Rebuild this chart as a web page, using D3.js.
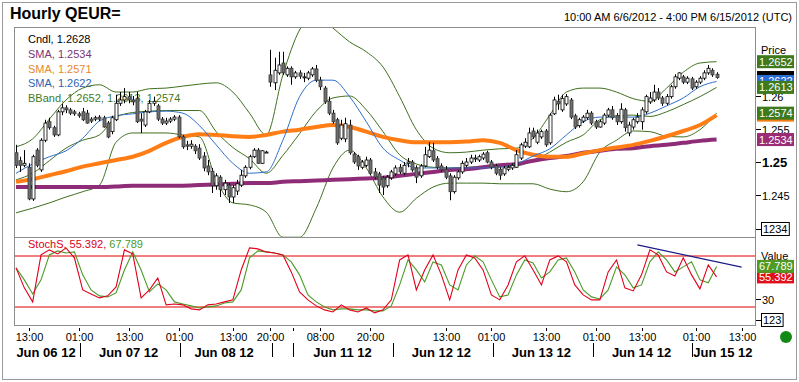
<!DOCTYPE html>
<html><head><meta charset="utf-8">
<script src="https://cdn.jsdelivr.net/npm/d3@7/dist/d3.min.js"></script>
<style>
body{margin:0;background:#fff;}
svg{display:block;font-family:"Liberation Sans",Arial,sans-serif;}
</style></head><body>
<svg id="c" width="799" height="382"></svg>
<script>
// ---------------- DATA ----------------
const opens=[1.2514,1.2502,1.2495,1.2492,1.2444,1.2518,1.2488,1.2533,1.2561,1.2552,
1.2541,1.2576,1.2582,1.2579,1.2576,1.2573,1.2576,1.2574,1.2565,1.2565,
1.2568,1.2567,1.2559,1.2546,1.2564,1.2589,1.2594,1.2599,1.2594,1.2596,
1.2565,1.2556,1.2576,1.2589,1.2585,1.2565,1.2559,1.2562,1.2565,1.2568,
1.2538,1.2526,1.2524,1.2524,1.2521,1.2509,1.2494,1.2486,1.2464,1.2477,
1.2458,1.2465,1.2447,1.2456,1.2465,1.2479,1.2492,1.2508,1.2518,1.2498,
1.2515,1.2632,1.2620,1.2635,1.2650,1.2632,1.2642,1.2629,1.2635,1.2629,
1.2627,1.2632,1.2641,1.2624,1.2612,1.2592,1.2574,1.2564,1.2536,1.2535,
1.2556,1.2512,1.2508,1.2492,1.2495,1.2503,1.2485,1.2482,1.2476,1.2464,
1.2476,1.2482,1.2492,1.2483,1.2498,1.2500,1.2491,1.2479,1.2494,1.2508,
1.2517,1.2505,1.2494,1.2489,1.2479,1.2455,1.2476,1.2485,1.2495,1.2500,
1.2505,1.2503,1.2506,1.2514,1.2500,1.2494,1.2489,1.2482,1.2489,1.2491,
1.2492,1.2506,1.2524,1.2523,1.2547,1.2530,1.2538,1.2547,1.2529,1.2573,
1.2592,1.2579,1.2588,1.2594,1.2570,1.2555,1.2562,1.2567,1.2574,1.2561,
1.2553,1.2559,1.2571,1.2579,1.2570,1.2561,1.2579,1.2544,1.2553,1.2561,
1.2561,1.2576,1.2591,1.2594,1.2606,1.2597,1.2589,1.2599,1.2614,1.2627,
1.2629,1.2621,1.2626,1.2614,1.2621,1.2627,1.2635,1.2639,1.2633];
const highs=[1.2526,1.2508,1.2518,1.2498,1.2511,1.2521,1.2536,1.2564,1.2567,1.2555,
1.2579,1.2588,1.2586,1.2582,1.2579,1.2576,1.2582,1.2579,1.2568,1.2570,
1.2571,1.2570,1.2562,1.2570,1.2602,1.2606,1.2612,1.2606,1.2600,1.2606,
1.2574,1.2579,1.2594,1.2599,1.2588,1.2568,1.2567,1.2568,1.2571,1.2571,
1.2541,1.2532,1.2533,1.2527,1.2527,1.2515,1.2503,1.2491,1.2483,1.2480,
1.2473,1.2468,1.2465,1.2473,1.2488,1.2495,1.2511,1.2521,1.2521,1.2518,
1.2517,1.2670,1.2658,1.2667,1.2667,1.2645,1.2645,1.2638,1.2639,1.2635,
1.2638,1.2644,1.2647,1.2629,1.2615,1.2599,1.2579,1.2567,1.2564,1.2567,
1.2564,1.2515,1.2511,1.2503,1.2508,1.2506,1.2491,1.2485,1.2479,1.2480,
1.2488,1.2495,1.2497,1.2500,1.2506,1.2503,1.2495,1.2497,1.2523,1.2530,
1.2529,1.2509,1.2498,1.2494,1.2483,1.2480,1.2488,1.2502,1.2506,1.2511,
1.2511,1.2511,1.2515,1.2517,1.2503,1.2497,1.2492,1.2494,1.2495,1.2498,
1.2518,1.2529,1.2536,1.2552,1.2552,1.2549,1.2549,1.2550,1.2574,1.2599,
1.2602,1.2602,1.2603,1.2597,1.2573,1.2567,1.2571,1.2579,1.2577,1.2564,
1.2564,1.2574,1.2582,1.2585,1.2574,1.2589,1.2582,1.2561,1.2567,1.2574,
1.2583,1.2602,1.2606,1.2617,1.2612,1.2600,1.2603,1.2617,1.2633,1.2636,
1.2632,1.2630,1.2629,1.2624,1.2630,1.2639,1.2647,1.2642,1.2636];
const lows=[1.2491,1.2485,1.2492,1.2442,1.2441,1.2492,1.2485,1.2530,1.2549,1.2538,
1.2539,1.2571,1.2574,1.2571,1.2570,1.2567,1.2562,1.2558,1.2559,1.2562,
1.2562,1.2552,1.2536,1.2542,1.2562,1.2585,1.2589,1.2589,1.2586,1.2559,
1.2544,1.2553,1.2574,1.2585,1.2562,1.2556,1.2556,1.2559,1.2562,1.2536,
1.2520,1.2518,1.2520,1.2512,1.2503,1.2486,1.2480,1.2453,1.2458,1.2447,
1.2450,1.2438,1.2438,1.2450,1.2462,1.2476,1.2489,1.2506,1.2497,1.2497,
1.2514,1.2614,1.2609,1.2632,1.2632,1.2629,1.2617,1.2626,1.2626,1.2621,
1.2624,1.2629,1.2621,1.2609,1.2588,1.2571,1.2558,1.2526,1.2533,1.2530,
1.2511,1.2497,1.2488,1.2489,1.2492,1.2480,1.2474,1.2453,1.2450,1.2461,
1.2473,1.2479,1.2482,1.2480,1.2492,1.2485,1.2468,1.2476,1.2492,1.2506,
1.2500,1.2489,1.2485,1.2474,1.2442,1.2452,1.2473,1.2482,1.2492,1.2497,
1.2500,1.2500,1.2503,1.2498,1.2489,1.2480,1.2473,1.2479,1.2486,1.2488,
1.2491,1.2503,1.2521,1.2521,1.2535,1.2527,1.2535,1.2523,1.2526,1.2571,
1.2579,1.2576,1.2585,1.2565,1.2550,1.2552,1.2559,1.2564,1.2556,1.2550,
1.2552,1.2556,1.2568,1.2564,1.2556,1.2558,1.2546,1.2539,1.2549,1.2558,
1.2549,1.2573,1.2588,1.2591,1.2594,1.2585,1.2586,1.2596,1.2611,1.2624,
1.2618,1.2618,1.2609,1.2611,1.2618,1.2624,1.2632,1.2629,1.2626];
const closes=[1.2495,1.2495,1.2498,1.2444,1.2508,1.2495,1.2533,1.2559,1.2552,1.2541,
1.2576,1.2582,1.2579,1.2574,1.2573,1.2570,1.2564,1.2559,1.2562,1.2567,
1.2565,1.2553,1.2538,1.2567,1.2589,1.2594,1.2599,1.2594,1.2591,1.2561,
1.2562,1.2576,1.2589,1.2592,1.2565,1.2559,1.2562,1.2565,1.2568,1.2538,
1.2523,1.2524,1.2527,1.2517,1.2506,1.2491,1.2485,1.2464,1.2479,1.2458,
1.2468,1.2447,1.2461,1.2467,1.2480,1.2492,1.2508,1.2518,1.2498,1.2517,
1.2515,1.2621,1.2639,1.2647,1.2635,1.2642,1.2629,1.2635,1.2630,1.2629,
1.2635,1.2641,1.2624,1.2614,1.2591,1.2574,1.2561,1.2529,1.2556,1.2558,
1.2514,1.2500,1.2494,1.2500,1.2503,1.2483,1.2477,1.2465,1.2462,1.2477,
1.2485,1.2491,1.2485,1.2495,1.2500,1.2488,1.2477,1.2494,1.2511,1.2518,
1.2503,1.2492,1.2488,1.2477,1.2455,1.2477,1.2485,1.2498,1.2500,1.2506,
1.2506,1.2508,1.2512,1.2500,1.2492,1.2483,1.2480,1.2491,1.2492,1.2495,
1.2511,1.2526,1.2530,1.2544,1.2538,1.2544,1.2546,1.2526,1.2571,1.2594,
1.2588,1.2596,1.2599,1.2568,1.2553,1.2564,1.2568,1.2574,1.2559,1.2553,
1.2561,1.2571,1.2579,1.2567,1.2561,1.2580,1.2552,1.2556,1.2564,1.2568,
1.2579,1.2599,1.2597,1.2606,1.2597,1.2589,1.2599,1.2614,1.2629,1.2635,
1.2621,1.2627,1.2612,1.2621,1.2627,1.2635,1.2642,1.2632,1.2628];

// indicator lines, sampled every 4th candle (index 0,4,...,168)
const lineStep=4;
const smaPurple=[1.2462,1.2462,1.2462,1.2462,1.2462,1.2462,1.2463,1.2464,1.2464,1.2464,1.2464,1.2465,1.2466,1.2467,1.2468,1.2468,1.2470,1.2471,1.2472,1.2473,1.2474,1.2475,1.2476,1.2479,1.2482,1.2485,1.2488,1.2489,1.2492,1.2495,1.2497,1.2502,1.2506,1.2509,1.2514,1.2517,1.2520,1.2521,1.2524,1.2526,1.2529,1.2532,1.2534];
const smaOrange=[1.2470,1.2474,1.2480,1.2486,1.2493,1.2498,1.2503,1.2508,1.2517,1.2529,1.2538,1.2542,1.2541,1.2539,1.2538,1.2541,1.2546,1.2549,1.2553,1.2556,1.2553,1.2546,1.2538,1.2533,1.2530,1.2530,1.2530,1.2531,1.2533,1.2529,1.2518,1.2511,1.2508,1.2508,1.2513,1.2518,1.2522,1.2526,1.2532,1.2539,1.2547,1.2556,1.2571];
const smaBlue=[1.2483,1.2497,1.2508,1.2517,1.2536,1.2562,1.2570,1.2573,1.2576,1.2577,1.2574,1.2555,1.2526,1.2498,1.2483,1.2485,1.2533,1.2599,1.2624,1.2624,1.2599,1.2561,1.2521,1.2503,1.2491,1.2491,1.2491,1.2491,1.2491,1.2492,1.2497,1.2509,1.2520,1.2541,1.2561,1.2568,1.2568,1.2568,1.2574,1.2585,1.2597,1.2614,1.2622];
const bbUpper=[1.2523,1.2535,1.2565,1.2594,1.2612,1.2617,1.2606,1.2606,1.2611,1.2612,1.2615,1.2618,1.2620,1.2606,1.2574,1.2541,1.2632,1.2700,1.2723,1.2703,1.2682,1.2667,1.2644,1.2599,1.2549,1.2521,1.2514,1.2515,1.2518,1.2520,1.2521,1.2536,1.2571,1.2606,1.2612,1.2612,1.2606,1.2596,1.2592,1.2612,1.2636,1.2650,1.2652];
const bbMiddle=[1.2473,1.2483,1.2502,1.2521,1.2533,1.2541,1.2568,1.2575,1.2577,1.2578,1.2578,1.2578,1.2546,1.2522,1.2505,1.2483,1.2510,1.2543,1.2577,1.2597,1.2600,1.2579,1.2546,1.2511,1.2497,1.2492,1.2491,1.2492,1.2493,1.2493,1.2494,1.2502,1.2515,1.2530,1.2541,1.2564,1.2570,1.2571,1.2569,1.2576,1.2587,1.2599,1.2613];
const bbLower=[1.2423,1.2430,1.2438,1.2447,1.2455,1.2465,1.2530,1.2544,1.2544,1.2544,1.2541,1.2538,1.2473,1.2438,1.2435,1.2424,1.2386,1.2386,1.2430,1.2491,1.2518,1.2491,1.2447,1.2424,1.2445,1.2462,1.2468,1.2468,1.2468,1.2467,1.2467,1.2467,1.2459,1.2455,1.2470,1.2515,1.2533,1.2547,1.2546,1.2539,1.2538,1.2549,1.2574];

// stochastic, sampled every 2nd candle
const stochStep=2;
const stochK=[66.0,42.5,26.0,81.3,87.2,82.5,89.5,77.8,40.1,35.4,
30.7,33.1,43.6,87.2,82.5,30.7,40.1,54.2,22.5,23.6,
22.5,17.8,16.6,22.5,23.6,26.0,28.4,63.6,89.5,88.4,
84.8,83.6,81.3,61.3,37.8,28.4,21.3,16.6,14.2,22.5,
16.6,14.2,18.9,13.1,16.6,28.4,75.4,81.3,40.1,63.6,
81.3,57.8,28.4,63.6,81.3,77.8,63.6,34.2,28.4,46.0,
73.1,80.1,63.6,46.0,75.4,80.1,73.1,46.0,34.2,28.4,
28.4,61.3,75.4,42.5,38.9,57.8,87.2,81.3,61.3,56.6,
77.8,57.8,41.3,69.5,55.392];
const stochD=[66.0,51.9,35.4,51.9,81.3,86.0,83.6,84.8,57.8,40.1,
33.1,31.9,36.6,63.6,84.8,63.6,37.8,47.2,40.1,26.0,
23.6,21.3,18.9,20.1,21.3,24.8,26.0,40.1,77.8,86.0,
84.8,83.6,81.3,73.1,57.8,34.2,26.0,20.1,16.6,17.8,
17.8,16.6,16.6,15.4,15.4,21.3,46.0,75.4,63.6,49.5,
73.1,69.5,46.0,40.1,69.5,80.1,73.1,51.9,31.9,34.2,
57.8,75.4,71.9,54.2,61.3,75.4,77.8,61.3,40.1,31.9,
29.5,40.1,67.2,57.8,42.5,46.0,73.1,84.8,75.4,61.3,
67.2,73.1,51.9,48.4,67.789];
const stochLevels=[80,20];
const trendIdx=[149,174], trendVal=[93,67];

// axes
const priceTicks=[1.245,1.25,1.255,1.26];
const stochTicks=[30];
const hourTickIdx=[3,15,27,39,52,61,73,85,103,114,127,139,150,163,174];
const hourTickLabels=["13:00","01:00","13:00","01:00","13:00","20:00","08:00","20:00","13:00","01:00","13:00","01:00","13:00","01:00","13:00"];
const minorTickIdx=[66.4];
const dayLabelIdx=[7.2,27,49.9,78.3,102,126,150,169.5];
const dayLabels=["Jun 06 12","Jun 07 12","Jun 08 12","Jun 11 12","Jun 12 12","Jun 13 12","Jun 14 12","Jun 15 12"];
const daySepIdx=[15.3,39.3,61.4,66.4,90.4,114.4,138.4,162.2];

const legend=[
 {t:"Cndl, 1.2628",c:"#000000"},
 {t:"SMA, 1.2534",c:"#7d3577"},
 {t:"SMA, 1.2571",c:"#e88a2e"},
 {t:"SMA, 1.2622",c:"#2f62b3"},
 {t:"BBand, 1.2652, 1.2613, 1.2574",c:"#3f7a1e"}];
// last-value markers on the price scale (t=null: marker hidden under neighbours)
const priceBoxes=[
 {v:1.2628,t:null,c:"#000000"},
 {v:1.2622,t:"1.2622",c:"#2a6cd6"},
 {v:1.2652,t:"1.2652",c:"#3e7a1c"},
 {v:1.2613,t:"1.2613",c:"#3e7a1c"},
 {v:1.2571,t:null,c:"#f07c12"},
 {v:1.2574,t:"1.2574",c:"#3e7a1c"},
 {v:1.2534,t:"1.2534",c:"#9b2b72"}];
const stochBoxes=[
 {v:55.392,t:"55.392",c:"#e0101a"},
 {v:67.789,t:"67.789",c:"#4f9a22"}];

// ---------------- LAYOUT ----------------
const L=14,R=756,T=27,MID=237,B=326;
const svg=d3.select("#c");
const x=d3.scaleLinear().domain([0,168]).range([16,716.6]);
const y=d3.scaleLinear().domain([1.245,1.26]).range([195,96]);
const ys=d3.scaleLinear().domain([20,80]).range([307,256]);

// window frame
svg.append("rect").attr("x",2.5).attr("y",2.5).attr("width",794).attr("height",377)
 .attr("fill","#fff").attr("stroke","#9a9a9a");
svg.append("text").attr("x",10).attr("y",18.5).attr("font-size",16).attr("font-weight","bold").text("Hourly QEUR=");
svg.append("text").attr("x",792).attr("y",20.5).attr("font-size",11).attr("text-anchor","end")
 .text("10:00 AM 6/6/2012 - 4:00 PM 6/15/2012 (UTC)");

const defs=svg.append("defs");
defs.append("clipPath").attr("id","cm").append("rect").attr("x",L).attr("y",T).attr("width",R-L).attr("height",MID-T);
defs.append("clipPath").attr("id","cs").append("rect").attr("x",L).attr("y",MID).attr("width",R-L).attr("height",B-MID);

// legend
legend.forEach((d,k)=>{
 svg.append("text").attr("x",28).attr("y",43+k*14.8).attr("font-size",11).attr("fill",d.c).text(d.t);
});

const gm=svg.append("g").attr("clip-path","url(#cm)");
const mk=(arr,step)=>arr.map((v,k)=>({i:k*step,v}));
const lineP=d3.line().x(d=>x(d.i)).y(d=>y(d.v)).curve(d3.curveMonotoneX);
[bbUpper,bbMiddle,bbLower].forEach(a=>{
 gm.append("path").attr("d",lineP(mk(a,lineStep))).attr("fill","none").attr("stroke","#3f6f1f").attr("stroke-width",1);
});
gm.append("path").attr("d",lineP(mk(smaPurple,lineStep))).attr("fill","none").attr("stroke","#8e2c78").attr("stroke-width",4);
gm.append("path").attr("d",lineP(mk(smaOrange,lineStep))).attr("fill","none").attr("stroke","#ff7d14").attr("stroke-width",4);
gm.append("path").attr("d",lineP(mk(smaBlue,lineStep))).attr("fill","none").attr("stroke","#2f6fc8").attr("stroke-width",1);

// candles
const candles=opens.map((o,i)=>({i,o,h:highs[i],l:lows[i],c:closes[i]}));
const cg=gm.append("g");
cg.selectAll("line.w").data(candles).enter().append("line")
 .attr("x1",d=>Math.round(x(d.i))+0.5).attr("x2",d=>Math.round(x(d.i))+0.5)
 .attr("y1",d=>y(d.h)).attr("y2",d=>y(d.l)).attr("stroke","#000").attr("stroke-width",1);
cg.selectAll("rect.b").data(candles).enter().append("rect")
 .attr("x",d=>Math.round(x(d.i))-1)
 .attr("width",3)
 .attr("y",d=>y(Math.max(d.o,d.c)))
 .attr("height",d=>Math.max(1,Math.abs(y(d.o)-y(d.c))))
 .attr("fill",d=>d.c>=d.o?"#ffffff":"#6e6e6e")
 .attr("stroke",d=>d.c>=d.o?"#000":"#3a3a3a").attr("stroke-width",0.8);

// stoch
const gs=svg.append("g").attr("clip-path","url(#cs)");
stochLevels.forEach(v=>{
 gs.append("line").attr("x1",L).attr("x2",R).attr("y1",ys(v)).attr("y2",ys(v)).attr("stroke","#e00000").attr("stroke-width",1);
});
const lineS=d3.line().x(d=>x(d.i)).y(d=>ys(d.v));
gs.append("path").attr("d",lineS(mk(stochD,stochStep))).attr("fill","none").attr("stroke","#4c9a26").attr("stroke-width",1.1);
gs.append("path").attr("d",lineS(mk(stochK,stochStep))).attr("fill","none").attr("stroke","#e0001c").attr("stroke-width",1.1);
gs.append("line").attr("x1",x(trendIdx[0])).attr("y1",ys(trendVal[0])).attr("x2",x(trendIdx[1])).attr("y2",ys(trendVal[1]))
 .attr("stroke","#1a1a86").attr("stroke-width",1.2);
const st=svg.append("text").attr("x",28).attr("y",248).attr("font-size",11);
st.append("tspan").attr("fill","#d8001c").text("StochS, 55.392, ");
st.append("tspan").attr("fill","#4c9a26").text("67.789");

// panel frames
svg.append("rect").attr("x",L+0.5).attr("y",T+0.5).attr("width",R-L-1).attr("height",B-T-1).attr("fill","none").attr("stroke","#8c8c8c");
svg.append("line").attr("x1",L).attr("x2",R).attr("y1",MID+0.5).attr("y2",MID+0.5).attr("stroke","#8c8c8c");

// price axis
svg.append("text").attr("x",761).attr("y",54).attr("font-size",11).text("Price");
priceTicks.forEach(v=>{
 const yy=Math.round(y(v))+0.5;
 svg.append("line").attr("x1",R).attr("x2",R+5).attr("y1",yy).attr("y2",yy).attr("stroke","#000");
 svg.append("text").attr("x",R+6).attr("y",yy+4).attr("font-size",v===1.25?13:11)
  .attr("font-weight",v===1.25?"bold":"normal").text(v===1.25?"1.25":d3.format(".3~f")(v));
});
// truncated boxed labels at panel bottoms
[[MID-8,"1234"],[B-6,"123"]].forEach(([yy,t])=>{
 svg.append("line").attr("x1",R).attr("x2",R+5).attr("y1",yy+0.5).attr("y2",yy+0.5).attr("stroke","#000");
 const w=t.length*6.2+3;
 svg.append("rect").attr("x",R+5.5).attr("y",yy-6.5).attr("width",w).attr("height",13).attr("fill","#fff").attr("stroke","#000");
 svg.append("text").attr("x",R+7).attr("y",yy+4).attr("font-size",11).text(t);
});
priceBoxes.forEach(d=>{
 const yy=y(d.v);
 svg.append("rect").attr("x",R+1).attr("y",yy-6.5).attr("width",37).attr("height",13).attr("fill",d.c);
 if(d.t) svg.append("text").attr("x",R+3).attr("y",yy+4).attr("font-size",11).attr("fill","#fff").text(d.t);
});
// stoch axis
svg.append("text").attr("x",761).attr("y",260).attr("font-size",11).text("Value");
stochTicks.forEach(v=>{
 const yy=Math.round(ys(v))+0.5;
 svg.append("line").attr("x1",R).attr("x2",R+5).attr("y1",yy).attr("y2",yy).attr("stroke","#000");
 svg.append("text").attr("x",R+6).attr("y",yy+4).attr("font-size",11).text(v);
});
stochBoxes.forEach(d=>{
 const yy=ys(d.v);
 svg.append("rect").attr("x",R+1).attr("y",yy-6.5).attr("width",37).attr("height",13).attr("fill",d.c);
 svg.append("text").attr("x",R+3).attr("y",yy+4).attr("font-size",11).attr("fill","#fff").text(d.t);
});

// time axis
hourTickIdx.forEach((t,k)=>{
 const xx=Math.round(x(t))+0.5;
 svg.append("line").attr("x1",xx).attr("x2",xx).attr("y1",B+2).attr("y2",B+5).attr("stroke","#000");
 svg.append("text").attr("x",xx).attr("y",B+15).attr("font-size",11).attr("text-anchor","middle").text(hourTickLabels[k]);
});
minorTickIdx.forEach(t=>{
 const xx=Math.round(x(t))+0.5;
 svg.append("line").attr("x1",xx).attr("x2",xx).attr("y1",B+2).attr("y2",B+5).attr("stroke","#000");
});
daySepIdx.forEach(t=>{
 const xx=Math.round(x(t))+0.5;
 svg.append("line").attr("x1",xx).attr("x2",xx).attr("y1",B+17).attr("y2",B+31).attr("stroke","#000");
});
dayLabels.forEach((t,k)=>{
 svg.append("text").attr("x",x(dayLabelIdx[k])).attr("y",B+31).attr("font-size",13).attr("font-weight","bold")
  .attr("text-anchor","middle").text(t);
});
svg.append("circle").attr("cx",786).attr("cy",337).attr("r",6).attr("fill","#138a13");
</script>
</body></html>
